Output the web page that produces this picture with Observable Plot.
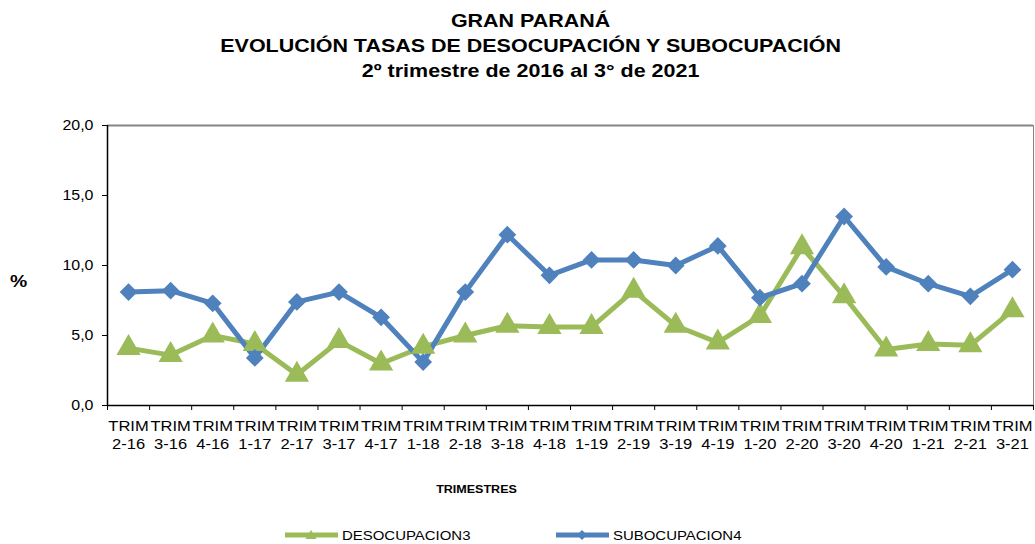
<!DOCTYPE html>
<html>
<head>
<meta charset="utf-8">
<script src="https://cdn.jsdelivr.net/npm/d3@7"></script>
<script src="https://cdn.jsdelivr.net/npm/@observablehq/plot@0.6"></script>
<style>
  body { margin: 0; background: #fff; font-family: "Liberation Sans", Arial, sans-serif; color: #000; }
  #title { height: 95px; box-sizing: border-box; padding-top: 8px; text-align: center;
           font-weight: bold; font-size: 19px; line-height: 25px; }
  #title .inner { width: 1035px; transform-origin: 532px 0; transform: translateX(15px) scaleX(1.13); }
  #chart { height: 415px; }
  #legend { position: relative; height: 34px; font-size: 13px; }
  #legend .item { position: absolute; top: 16px; display: flex; align-items: center; height: 18px; }
  #legend svg { display: block; margin-right: 4px; }
  #legend span { display: inline-block; transform-origin: 0 50%; transform: scaleX(1.15); }
</style>
</head>
<body>
<div id="title"><div class="inner">
  <div>GRAN PARANÁ</div>
  <div>EVOLUCIÓN TASAS DE DESOCUPACIÓN Y SUBOCUPACIÓN</div>
  <div>2º trimestre de 2016 al 3° de 2021</div>
</div></div>
<div id="chart"></div>
<div id="legend"></div>
<script>
const categories = ["2-16","3-16","4-16","1-17","2-17","3-17","4-17","1-18","2-18","3-18","4-18",
                    "1-19","2-19","3-19","4-19","1-20","2-20","3-20","4-20","1-21","2-21","3-21"];
const desocupacion = [4.1, 3.6, 5.0, 4.4, 2.2, 4.6, 3.0, 4.2, 5.0, 5.7, 5.6,
                      5.6, 8.2, 5.7, 4.5, 6.4, 11.3, 7.8, 4.0, 4.4, 4.3, 6.8];
const subocupacion = [8.1, 8.2, 7.3, 3.4, 7.4, 8.1, 6.3, 3.1, 8.1, 12.2, 9.3,
                      10.4, 10.4, 10.0, 11.4, 7.7, 8.7, 13.5, 9.9, 8.7, 7.8, 9.7];
const seriesNames = ["DESOCUPACION3", "SUBOCUPACION4"];
const seriesColors = ["#9BBB59", "#4F81BD"];
const yTicks = [0, 5, 10, 15, 20];
const xPrefix = "TRIM";
const yLabel = "%";
const xLabel = "TRIMESTRES";

const rows = [];
categories.forEach((c, i) => {
  rows.push({i, cat: c, serie: seriesNames[0], v: desocupacion[i]});
  rows.push({i, cat: c, serie: seriesNames[1], v: subocupacion[i]});
});
const boundaries = d3.range(categories.length + 1).map(k => k - 0.5);
const fmt = d => d.toFixed(1).replace(".", ",");

const chart = Plot.plot({
  width: 1035,
  height: 415,
  marginLeft: 107,
  marginRight: 2,
  marginTop: 30,
  marginBottom: 105,
  style: { fontFamily: '"Liberation Sans", Arial, sans-serif', color: "#000", background: "#fff", overflow: "visible" },
  x: { domain: [-0.5, categories.length - 0.5] },
  y: { domain: [0, 20] },
  color: { domain: seriesNames, range: seriesColors },
  marks: [
    Plot.ruleY([20], { stroke: "#868686", strokeWidth: 2 }),
    Plot.ruleX([categories.length - 0.5], { stroke: "#868686", strokeWidth: 1 }),
    Plot.axisY({ ticks: yTicks, tickFormat: fmt, tickSize: 5, tickPadding: 9, fontSize: 14, label: null, stroke: "#000" }),
    Plot.axisX({ ticks: boundaries, tickFormat: () => "", tickSize: 5, label: null, stroke: "#000" }),
    Plot.axisX({ ticks: d3.range(categories.length), tickFormat: k => xPrefix + "\n" + categories[k],
                 tickSize: 0, tickPadding: 13, fontSize: 14.5, lineHeight: 1.25, label: null }),
    Plot.ruleX([-0.5], { stroke: "#000", strokeWidth: 1.5 }),
    Plot.ruleY([0], { stroke: "#000", strokeWidth: 1.5 }),
    Plot.line(rows, { x: "i", y: "v", z: "serie", stroke: "serie", strokeWidth: 5 }),
    Plot.dot(rows.filter(d => d.serie === seriesNames[0]), { x: "i", y: "v", fill: "serie", symbol: "triangle", r: 9 }),
    Plot.dot(rows.filter(d => d.serie === seriesNames[1]), { x: "i", y: "v", fill: "serie", symbol: "diamond2", r: 8 }),
    Plot.text([yLabel], { frameAnchor: "left", dx: -89, dy: 16, textAnchor: "middle", fontSize: 17, fontWeight: "bold" }),
    Plot.text([xLabel], { frameAnchor: "bottom", dx: -94, dy: 87, textAnchor: "middle", fontSize: 11, fontWeight: "bold" })
  ]
});
document.getElementById("chart").appendChild(chart);

// widen glyphs horizontally like the reference rendering
chart.querySelectorAll("text").forEach(t => {
  const tr = t.getAttribute("transform");
  if (tr) {
    t.setAttribute("transform", tr + " scale(1.14,1)");
  } else {
    const x = +(t.getAttribute("x") || 0), y = +(t.getAttribute("y") || 0);
    t.removeAttribute("x"); t.removeAttribute("y");
    t.setAttribute("transform", `translate(${x},${y}) scale(1.14,1)`);
  }
});

// legend
const legend = document.getElementById("legend");
const legendX = [285, 556];
seriesNames.forEach((name, k) => {
  const item = document.createElement("div");
  item.className = "item";
  item.style.left = legendX[k] + "px";
  const marker = k === 0
    ? '<path d="M26,4 L31.5,13 L20.5,13 Z" fill="' + seriesColors[k] + '"/>'
    : '<path d="M26,4 L31,9 L26,14 L21,9 Z" fill="' + seriesColors[k] + '"/>';
  item.innerHTML = '<svg width="53" height="18"><line x1="0" x2="53" y1="9" y2="9" stroke="' + seriesColors[k] +
    '" stroke-width="5"/>' + marker + '</svg><span>' + name + '</span>';
  legend.appendChild(item);
});
</script>
</body>
</html>
